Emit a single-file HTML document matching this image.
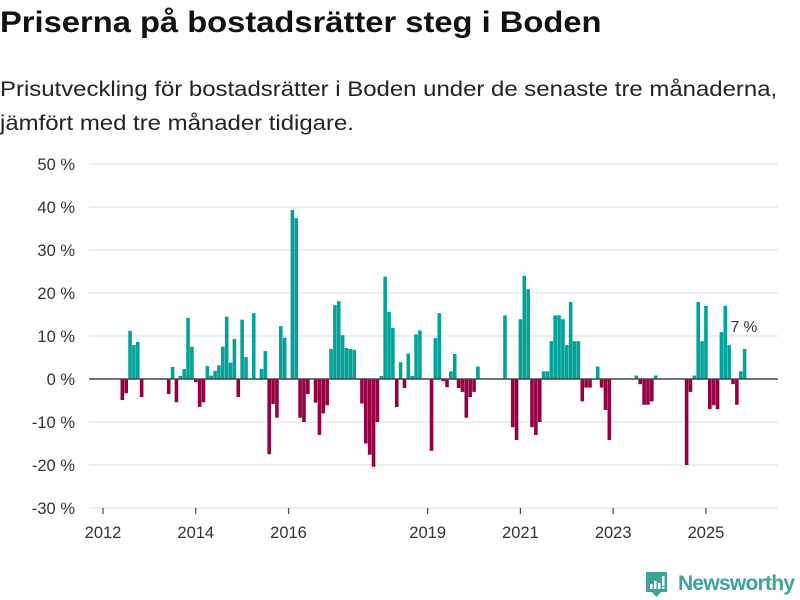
<!DOCTYPE html>
<html><head><meta charset="utf-8"><style>
body{margin:0;background:#fff;width:800px;height:600px;overflow:hidden;font-family:"Liberation Sans","DejaVu Sans",sans-serif;}
#title{position:absolute;left:0;top:6px;font-size:30px;font-weight:bold;color:#111;white-space:nowrap;transform:scaleX(1.09);transform-origin:0 0;}
#sub{position:absolute;left:0;top:73px;font-size:21px;line-height:34px;color:#222;white-space:nowrap;transform:scaleX(1.14);transform-origin:0 0;}
svg{position:absolute;left:0;top:0;}
</style></head><body>
<div id="title">Priserna på bostadsrätter steg i Boden</div>
<div id="sub">Prisutveckling för bostadsrätter i Boden under de senaste tre månaderna,<br>jämfört med tre månader tidigare.</div>
<svg id="chart" width="800" height="600"></svg>
<script>
const months=["2012-06","2012-07","2012-08","2012-09","2012-10","2012-11","2013-06","2013-07","2013-08","2013-09","2013-10","2013-11","2013-12","2014-01","2014-02","2014-03","2014-04","2014-05","2014-06","2014-07","2014-08","2014-09","2014-10","2014-11","2014-12","2015-01","2015-02","2015-04","2015-06","2015-07","2015-08","2015-09","2015-10","2015-11","2015-12","2016-02","2016-03","2016-04","2016-05","2016-06","2016-08","2016-09","2016-10","2016-11","2016-12","2017-01","2017-02","2017-03","2017-04","2017-05","2017-06","2017-08","2017-09","2017-10","2017-11","2017-12","2018-01","2018-02","2018-03","2018-04","2018-05","2018-06","2018-07","2018-08","2018-09","2018-10","2018-11","2019-02","2019-03","2019-04","2019-05","2019-06","2019-07","2019-08","2019-09","2019-10","2019-11","2019-12","2020-01","2020-02","2020-09","2020-11","2020-12","2021-01","2021-02","2021-03","2021-04","2021-05","2021-06","2021-07","2021-08","2021-09","2021-10","2021-11","2021-12","2022-01","2022-02","2022-03","2022-04","2022-05","2022-06","2022-07","2022-09","2022-10","2022-11","2022-12","2023-07","2023-08","2023-09","2023-10","2023-11","2023-12","2024-08","2024-09","2024-10","2024-11","2024-12","2025-01","2025-02","2025-03","2025-04","2025-05","2025-06","2025-07","2025-08","2025-09","2025-10","2025-11"];
const values=[-4.9,-3.3,11.2,7.9,8.6,-4.2,-3.5,2.8,-5.4,0.7,2.3,14.2,7.5,-0.7,-6.5,-5.4,3,0.8,1.9,3.2,7.5,14.5,3.8,9.3,-4.2,13.8,5.1,15.3,2.3,6.5,-17.5,-5.8,-9,12.3,9.6,39.3,37.4,-9,-10,-3.5,-5.5,-13,-8,-6.1,7,17.2,18.1,10.2,7.2,7,6.8,-5.7,-15,-17.6,-20.4,-10,0.7,23.8,15.6,11.9,-6.5,3.9,-2.1,5.9,0.7,10.4,11.3,-16.7,9.5,15.3,-0.5,-1.9,1.8,5.8,-2.1,-3,-9,-4.2,-3,2.9,14.8,-11.2,-14.2,13.9,24,20.9,-11.2,-13,-10,1.8,1.8,8.8,14.8,14.8,13.9,7.9,17.9,8.8,8.8,-5.2,-2,-2,2.9,-2,-7.2,-14.2,0.8,-1.2,-6,-6,-5.2,0.8,-20,-3,0.8,17.9,8.8,17,-7,-6.1,-7,10.9,17,7.9,-1.2,-6,1.8,7];
const yTicks=[50,40,30,20,10,0,-10,-20,-30];
const xTickYears=[2012,2014,2016,2019,2021,2023,2025];
const lastLabel="7 %";

const svg=document.getElementById('chart');
const NS="http://www.w3.org/2000/svg";
const y=v=>379-v*4.3;
const xm=i=>103+i*3.865;
const idx=s=>{const[a,b]=s.split('-').map(Number);return (a-2012)*12+(b-1);};
function mk(t,a){const e=document.createElementNS(NS,t);for(const k in a)e.setAttribute(k,a[k]);svg.appendChild(e);return e;}
yTicks.forEach(t=>{
  const l=mk('line',{x1:89,x2:778,y1:y(t),y2:y(t),stroke:'#dcdcdc','stroke-width':1});
  
  
  const tx=mk('text',{x:75,y:y(t)+6,'text-anchor':'end','font-size':16.5,fill:'#333'});
  tx.textContent=t+' %';
  
  
});
xTickYears.forEach(yr=>{
  const x=xm((yr-2012)*12);
  const l=mk('line',{x1:x,x2:x,y1:508,y2:514,stroke:'#444','stroke-width':1.2});
  
  
  const tx=mk('text',{x:x,y:538,'text-anchor':'middle','font-size':16.5,fill:'#333'});
  tx.textContent=yr;
  
  
});
let last=null;
months.forEach((m,k)=>{
  const v=values[k];const cx=xm(idx(m));
  const r=mk('rect',{x:cx-1.8,width:3.6,y:v>=0?y(v):y(0),height:Math.abs(v)*4.3,fill:v>=0?'#00a39a':'#960042'});
  
  
  last={cx,v};
});
const z=mk('line',{x1:89,x2:778,y1:y(0),y2:y(0),stroke:'#444','stroke-width':1.5});


const lb=mk('text',{x:last.cx-14,y:y(last.v)-17,'font-size':15.5,fill:'#333'});
lb.textContent=lastLabel;


</script>
<svg width="800" height="600" style="pointer-events:none">
<path d="M646 572 h21 v20 h-6 l-4.5 5 l-4.5 -5 h-6 z" fill="#3aa39a"/>
<rect x="650" y="584" width="2.5" height="5" fill="#fff"/><rect x="654" y="581" width="2.5" height="8" fill="#fff"/><rect x="658" y="583" width="2.5" height="6" fill="#fff"/><rect x="662" y="576" width="2.5" height="10" fill="#fff"/><rect x="662" y="587" width="2.5" height="2" fill="#fff"/>
<text x="678" y="590" font-size="21" font-weight="bold" fill="#3aa39a" textLength="117">Newsworthy</text>
</svg>
</body></html>
